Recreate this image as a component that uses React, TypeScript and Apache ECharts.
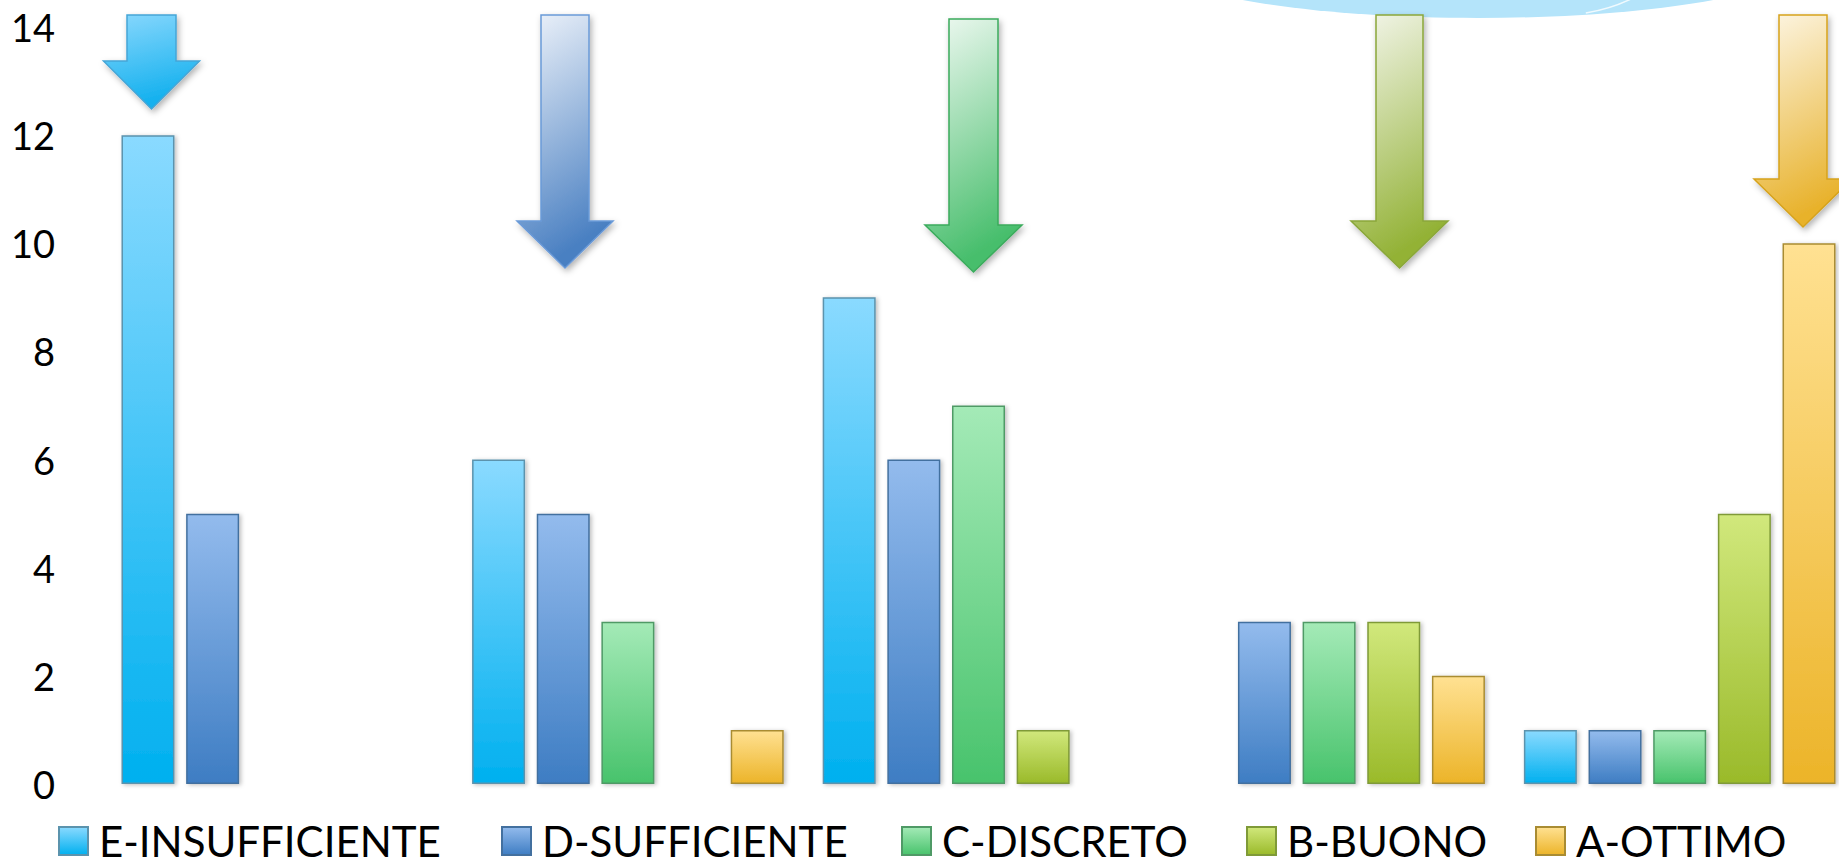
import React, { useEffect, useRef } from "react";
import * as echarts from "echarts";

const categories = ["1", "2", "3", "4", "5"];
const seriesNames = ["E-INSUFFICIENTE", "D-SUFFICIENTE", "C-DISCRETO", "B-BUONO", "A-OTTIMO"];
const eInsufficiente = [12, 6, 9, 0, 1];
const dSufficiente = [5, 5, 6, 3, 1];
const cDiscreto = [0, 3, 7, 3, 1];
const bBuono = [0, 0, 1, 3, 5];
const aOttimo = [0, 1, 0, 2, 10];
const yTicks = [0, 2, 4, 6, 8, 10, 12, 14];

const seriesValues = [eInsufficiente, dSufficiente, cDiscreto, bBuono, aOttimo];

const palette = [
  { top: "#8adaff", bottom: "#00b0ef", border: "#5b93ad" },
  { top: "#93bbed", bottom: "#3e7dc3", border: "#43709f" },
  { top: "#a4eab7", bottom: "#48c36c", border: "#4f9a66" },
  { top: "#d1e87c", bottom: "#9aba2a", border: "#7f9a38" },
  { top: "#ffe192", bottom: "#ecb429", border: "#a98c33" },
];

const arrowStyles = [
  { top: "#8ad8fd", bottom: "#12b0ee", border: "#45a5d6" },
  { top: "#f1f5fb", bottom: "#4a80c2", border: "#6a9ad8" },
  { top: "#f2faf4", bottom: "#47be6c", border: "#3bab5c" },
  { top: "#f5f7ee", bottom: "#93b236", border: "#8aa73a" },
  { top: "#fdf7e8", bottom: "#e8b22c", border: "#d6a21b" },
];

// decorative arrows: [centerX, top, shaftHalf, shaftBottom, headHalf, tipY]
const arrowGeom = [
  [151.5, 15, 24.5, 61, 48, 109],
  [565, 15, 24, 221, 48, 268],
  [973.5, 19, 24.5, 225, 48.5, 272],
  [1399.5, 15, 23.5, 221, 48.5, 268],
  [1803, 15, 24, 179, 49, 227],
];

const FONT = "Lato, 'Open Sans', sans-serif";

export default function App() {
  const ref = useRef<HTMLDivElement>(null);
  useEffect(() => {
    if (!ref.current) return;
    document.body.style.overflow = "hidden";
    const chart = echarts.init(ref.current, null, { renderer: "svg" });

    const series = seriesNames.map((name, i) => ({
      name,
      type: "bar",
      barWidth: 53,
      barGap: "22%",
      data: seriesValues[i].map((v) => (v === 0 ? null : v)),
      itemStyle: {
        color: new echarts.graphic.LinearGradient(0, 0, 0, 1, [
          { offset: 0, color: palette[i].top },
          { offset: 1, color: palette[i].bottom },
        ]),
        borderColor: palette[i].border,
        borderWidth: 1.5,
        shadowColor: "rgba(0,0,0,0.25)",
        shadowBlur: 4,
        shadowOffsetX: 2,
        shadowOffsetY: 1,
      },
      z: 3,
    }));

    const legendLefts = [53, 496, 896, 1241, 1530];
    const legends = seriesNames.map((name, i) => ({
      data: [name],
      left: legendLefts[i],
      top: 815,
      itemWidth: 29,
      itemHeight: 28,
      icon: "rect",
      textStyle: {
        fontFamily: FONT,
        fontSize: 42,
        color: "#000",
        lineHeight: 42,
        padding: [0, 0, 0, 6],
      },
      selectedMode: false,
    }));

    const arrows = arrowGeom.map((g, i) => {
      const [cx, top, sh, sb, hh, tip] = g;
      return {
        type: "polygon",
        z: 10,
        shape: {
          points: [
            [cx - sh, top],
            [cx + sh, top],
            [cx + sh, sb],
            [cx + hh, sb],
            [cx, tip],
            [cx - hh, sb],
            [cx - sh, sb],
          ],
        },
        style: {
          fill: new echarts.graphic.LinearGradient(0, 0, 0.25, 1, [
            { offset: 0, color: arrowStyles[i].top },
            { offset: 1, color: arrowStyles[i].bottom },
          ]),
          stroke: arrowStyles[i].border,
          lineWidth: 1.5,
          shadowColor: "rgba(0,0,0,0.3)",
          shadowBlur: 6,
          shadowOffsetX: 2,
          shadowOffsetY: 3,
        },
      };
    });

    chart.setOption({
      animation: false,
      backgroundColor: "#ffffff",
      grid: { left: 102, right: 0, top: 27, bottom: 83, containLabel: false },
      legend: legends,
      xAxis: {
        type: "category",
        data: categories,
        axisLine: { show: false },
        axisTick: { show: false },
        axisLabel: { show: false },
      },
      yAxis: {
        type: "value",
        min: yTicks[0],
        max: yTicks[yTicks.length - 1],
        interval: 2,
        axisLine: { show: false },
        axisTick: { show: false },
        axisLabel: {
          color: "#000",
          fontFamily: FONT,
          fontSize: 38,
          margin: 47,
          padding: [20, 0, 0, 0],
        },
        splitLine: {
          lineStyle: {
            color: "#9a9a9a",
            width: 2,
            shadowColor: "rgba(0,0,0,0.15)",
            shadowBlur: 2,
            shadowOffsetY: 2,
          },
        },
      },
      series,
      graphic: [
        {
          type: "ellipse",
          z: 1,
          shape: { cx: 1478, cy: -40, rx: 325, ry: 58 },
          style: { fill: "#b4e4fa" },
        },
        {
          type: "arc",
          z: 2,
          shape: { cx: 1560, cy: -150, r: 165, startAngle: Math.PI * 0.3, endAngle: Math.PI * 0.45 },
          style: { stroke: "rgba(255,255,255,0.8)", lineWidth: 1.5, fill: "none" },
        },
        ...arrows,
      ],
    });
    return () => chart.dispose();
  }, []);
  return (
    <div
      ref={ref}
      style={{ position: "fixed", left: 0, top: 0, width: 1855, height: 867 }}
    />
  );
}
